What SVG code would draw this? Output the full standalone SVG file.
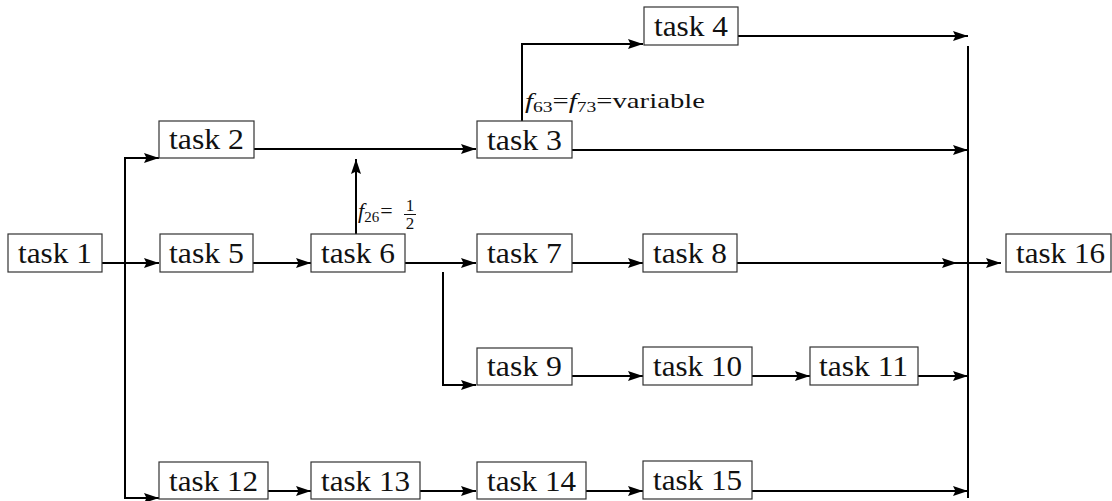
<svg xmlns="http://www.w3.org/2000/svg" width="1112" height="501" viewBox="0 0 1112 501">
<style>
.box{fill:#fff;stroke:#333;stroke-width:1.2}
.t{font-family:"Liberation Serif",serif;font-size:29px;fill:#111}
.c{fill:none;stroke:#000;stroke-width:2}
.lbl{font-family:"Liberation Serif",serif;font-size:22px;fill:#111}
.sub{font-size:15px}
.frac{font-size:17px}
</style>
<defs>
<marker id="ah" markerUnits="userSpaceOnUse" markerWidth="17" markerHeight="12" refX="15" refY="6" orient="auto">
<path d="M0,1 L15,6 L0,11 L2.5,6 z" fill="#000"/>
</marker>
</defs>
<rect width="1112" height="501" fill="#fff"/>
<g id="connectors">
<path class="c" d="M102,263 H159" marker-end="url(#ah)"/>
<path class="c" d="M125,158 V498"/>
<path class="c" d="M124,158 H159" marker-end="url(#ah)"/>
<path class="c" d="M124,498 H159" marker-end="url(#ah)"/>
<path class="c" d="M254,149 H476" marker-end="url(#ah)"/>
<path class="c" d="M356,242 V159" marker-end="url(#ah)"/>
<path class="c" d="M522,128 V44 H643" marker-end="url(#ah)"/>
<path class="c" d="M738,36 H968" marker-end="url(#ah)"/>
<path class="c" d="M572,150 H968" marker-end="url(#ah)"/>
<path class="c" d="M253,263 H311" marker-end="url(#ah)"/>
<path class="c" d="M405,263 H476" marker-end="url(#ah)"/>
<path class="c" d="M572,263 H643" marker-end="url(#ah)"/>
<path class="c" d="M737,263 H957" marker-end="url(#ah)"/>
<path class="c" d="M957,263 H1001" marker-end="url(#ah)"/>
<path class="c" d="M443,272 V385 H476" marker-end="url(#ah)"/>
<path class="c" d="M572,376 H643" marker-end="url(#ah)"/>
<path class="c" d="M752,376 H810" marker-end="url(#ah)"/>
<path class="c" d="M918,376 H968" marker-end="url(#ah)"/>
<path class="c" d="M268,491 H311" marker-end="url(#ah)"/>
<path class="c" d="M420,491 H476" marker-end="url(#ah)"/>
<path class="c" d="M572,491 H643" marker-end="url(#ah)"/>
<path class="c" d="M752,491 H968" marker-end="url(#ah)"/>
<path class="c" d="M968,46 V498"/>
</g>
<g id="task1"><rect class="box" x="8" y="234" width="94" height="38"/><text class="t" x="18" y="263" textLength="74" lengthAdjust="spacingAndGlyphs">task 1</text></g>
<g id="task2"><rect class="box" x="159" y="121" width="95" height="37"/><text class="t" x="169" y="149" textLength="75" lengthAdjust="spacingAndGlyphs">task 2</text></g>
<g id="task3"><rect class="box" x="477" y="121" width="95" height="37"/><text class="t" x="487" y="150" textLength="75" lengthAdjust="spacingAndGlyphs">task 3</text></g>
<g id="task4"><rect class="box" x="644" y="7" width="94" height="38"/><text class="t" x="654" y="36" textLength="74" lengthAdjust="spacingAndGlyphs">task 4</text></g>
<g id="task5"><rect class="box" x="160" y="234" width="93" height="38"/><text class="t" x="169" y="263" textLength="75" lengthAdjust="spacingAndGlyphs">task 5</text></g>
<g id="task6"><rect class="box" x="311" y="234" width="94" height="38"/><text class="t" x="321" y="263" textLength="74" lengthAdjust="spacingAndGlyphs">task 6</text></g>
<g id="task7"><rect class="box" x="477" y="234" width="95" height="38"/><text class="t" x="487" y="263" textLength="75" lengthAdjust="spacingAndGlyphs">task 7</text></g>
<g id="task8"><rect class="box" x="643" y="234" width="94" height="38"/><text class="t" x="653" y="263" textLength="74" lengthAdjust="spacingAndGlyphs">task 8</text></g>
<g id="task9"><rect class="box" x="477" y="348" width="95" height="37"/><text class="t" x="487" y="376" textLength="75" lengthAdjust="spacingAndGlyphs">task 9</text></g>
<g id="task10"><rect class="box" x="643" y="347" width="109" height="38"/><text class="t" x="653" y="376" textLength="89" lengthAdjust="spacingAndGlyphs">task 10</text></g>
<g id="task11"><rect class="box" x="810" y="347" width="108" height="38"/><text class="t" x="819" y="376" textLength="89" lengthAdjust="spacingAndGlyphs">task 11</text></g>
<g id="task12"><rect class="box" x="159" y="462" width="109" height="37"/><text class="t" x="169" y="491" textLength="89" lengthAdjust="spacingAndGlyphs">task 12</text></g>
<g id="task13"><rect class="box" x="311" y="462" width="109" height="37"/><text class="t" x="321" y="491" textLength="89" lengthAdjust="spacingAndGlyphs">task 13</text></g>
<g id="task14"><rect class="box" x="477" y="462" width="109" height="37"/><text class="t" x="487" y="491" textLength="89" lengthAdjust="spacingAndGlyphs">task 14</text></g>
<g id="task15"><rect class="box" x="643" y="461" width="109" height="38"/><text class="t" x="653" y="490" textLength="89" lengthAdjust="spacingAndGlyphs">task 15</text></g>
<g id="task16"><rect class="box" x="1006" y="234" width="105" height="38"/><text class="t" x="1016" y="263" textLength="89" lengthAdjust="spacingAndGlyphs">task 16</text></g>
<g id="label-f26">
<text class="lbl" x="358" y="218"><tspan font-style="italic">f</tspan><tspan class="sub" dy="4">26</tspan><tspan dy="-4" dx="1">=</tspan><tspan class="frac" x="410" y="211" text-anchor="middle">1</tspan><tspan class="frac" x="410" y="229" text-anchor="middle">2</tspan></text>
<line x1="404" y1="214.5" x2="416" y2="214.5" stroke="#111" stroke-width="1"/>
</g>
<g id="label-f63">
<text class="lbl" x="525" y="108" textLength="180" lengthAdjust="spacingAndGlyphs"><tspan font-style="italic">f</tspan><tspan class="sub" dy="4">63</tspan><tspan dy="-4">=</tspan><tspan font-style="italic">f</tspan><tspan class="sub" dy="4">73</tspan><tspan dy="-4">=variable</tspan></text>
</g>
</svg>
